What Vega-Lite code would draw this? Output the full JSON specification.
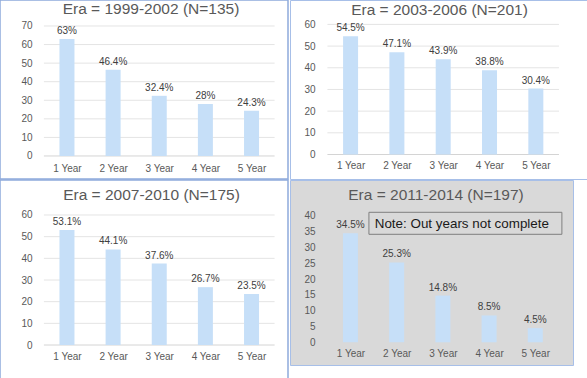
{
  "$schema": "https://vega.github.io/schema/vega-lite/v6.json",
  "padding": {"left": -1, "top": -1, "right": 0, "bottom": 0},
  "background": "white",
  "columns": 2,
  "spacing": {"row": 1, "column": 2},
  "bounds": "flush",
  "datasets": {
    "e1": [
      {"yr": 1, "v": 63, "t": "63%"},
      {"yr": 2, "v": 46.4, "t": "46.4%"},
      {"yr": 3, "v": 32.4, "t": "32.4%"},
      {"yr": 4, "v": 28, "t": "28%"},
      {"yr": 5, "v": 24.3, "t": "24.3%"}
    ],
    "e2": [
      {"yr": 1, "v": 54.5, "t": "54.5%"},
      {"yr": 2, "v": 47.1, "t": "47.1%"},
      {"yr": 3, "v": 43.9, "t": "43.9%"},
      {"yr": 4, "v": 38.8, "t": "38.8%"},
      {"yr": 5, "v": 30.4, "t": "30.4%"}
    ],
    "e3": [
      {"yr": 1, "v": 53.1, "t": "53.1%"},
      {"yr": 2, "v": 44.1, "t": "44.1%"},
      {"yr": 3, "v": 37.6, "t": "37.6%"},
      {"yr": 4, "v": 26.7, "t": "26.7%"},
      {"yr": 5, "v": 23.5, "t": "23.5%"}
    ],
    "e4": [
      {"yr": 1, "v": 34.5, "t": "34.5%"},
      {"yr": 2, "v": 25.3, "t": "25.3%"},
      {"yr": 3, "v": 14.8, "t": "14.8%"},
      {"yr": 4, "v": 8.5, "t": "8.5%"},
      {"yr": 5, "v": 4.5, "t": "4.5%"}
    ],
    "g70": [{"v": 0}, {"v": 10}, {"v": 20}, {"v": 30}, {"v": 40}, {"v": 50}, {"v": 60}, {"v": 70}],
    "g60": [{"v": 0}, {"v": 10}, {"v": 20}, {"v": 30}, {"v": 40}, {"v": 50}, {"v": 60}],
    "note": [{"note": "Note: Out years not complete"}]
  },
  "concat": [
    {
      "width": 288,
      "height": 179,
      "view": {"stroke": "#8faadc", "strokeWidth": 1.5, "fill": "white"},
      "title": {"text": "Era = 1999-2002 (N=135)", "offset": -17, "dx": 7},
      "layer": [
        {
          "data": {"name": "g70"},
          "mark": {"type": "rule", "strokeWidth": 1},
          "encoding": {
            "y": {"field": "v", "type": "quantitative"},
            "x": {"datum": 0.5, "type": "quantitative"},
            "x2": {"datum": 5.5},
            "stroke": {"condition": {"test": "datum.v === 0", "value": "#d4d4d4"}, "value": "#e4e4e4"}
          }
        },
        {
          "data": {"name": "e1"},
          "mark": {"type": "bar", "width": 15, "orient": "vertical", "color": "#c6dff8"},
          "encoding": {
            "x": {"field": "yr", "type": "quantitative", "scale": {"domain": [-0.343, 5.682], "nice": false, "zero": false},
              "axis": {"values": [1, 2, 3, 4, 5], "tickCount": 20, "labelExpr": "datum.value + ' Year'", "title": null, "offset": -21, "labelPadding": 5}},
            "y": {"field": "v", "type": "quantitative", "scale": {"domain": [-12.4, 84], "nice": false, "zero": false},
              "axis": {"values": [0, 10, 20, 30, 40, 50, 60, 70], "tickCount": 20, "title": null, "offset": -32, "labelPadding": 0}}
          }
        },
        {
          "data": {"name": "e1"},
          "mark": {"type": "text", "baseline": "bottom", "dy": -3, "fontSize": 10, "color": "#404040"},
          "encoding": {
            "x": {"field": "yr", "type": "quantitative"},
            "y": {"field": "v", "type": "quantitative"},
            "text": {"field": "t"}
          }
        }
      ]
    },
    {
      "width": 299,
      "height": 179,
      "view": {"stroke": "#a7bfe8", "strokeWidth": 1, "fill": "white"},
      "title": {"text": "Era = 2003-2006 (N=201)", "offset": -18.5, "dx": 0},
      "layer": [
        {
          "data": {"name": "g60"},
          "mark": {"type": "rule", "strokeWidth": 1},
          "encoding": {
            "y": {"field": "v", "type": "quantitative"},
            "x": {"datum": 0.5, "type": "quantitative"},
            "x2": {"datum": 5.5},
            "stroke": {"condition": {"test": "datum.v === 0", "value": "#d4d4d4"}, "value": "#e4e4e4"}
          }
        },
        {
          "data": {"name": "e2"},
          "mark": {"type": "bar", "width": 15, "orient": "vertical", "color": "#c6dff8"},
          "encoding": {
            "x": {"field": "yr", "type": "quantitative", "scale": {"domain": [-0.2, 6.04], "nice": false, "zero": false},
              "axis": {"values": [1, 2, 3, 4, 5], "tickCount": 20, "labelExpr": "datum.value + ' Year'", "title": null, "offset": -23.5, "labelPadding": 5}},
            "y": {"field": "v", "type": "quantitative", "scale": {"domain": [-11.3, 71.25], "nice": false, "zero": false},
              "axis": {"values": [0, 10, 20, 30, 40, 50, 60], "tickCount": 20, "title": null, "offset": -25, "labelPadding": 0}}
          }
        },
        {
          "data": {"name": "e2"},
          "mark": {"type": "text", "baseline": "bottom", "dy": -3, "fontSize": 10, "color": "#404040"},
          "encoding": {
            "x": {"field": "yr", "type": "quantitative"},
            "y": {"field": "v", "type": "quantitative"},
            "text": {"field": "t"}
          }
        }
      ]
    },
    {
      "width": 288,
      "height": 200,
      "view": {"stroke": "#8faadc", "strokeWidth": 1.5, "fill": "white"},
      "title": {"text": "Era = 2007-2010 (N=175)", "offset": -23, "dx": 7.5},
      "layer": [
        {
          "data": {"name": "g60"},
          "mark": {"type": "rule", "strokeWidth": 1},
          "encoding": {
            "y": {"field": "v", "type": "quantitative"},
            "x": {"datum": 0.5, "type": "quantitative"},
            "x2": {"datum": 5.5},
            "stroke": {"condition": {"test": "datum.v === 0", "value": "#d4d4d4"}, "value": "#e4e4e4"}
          }
        },
        {
          "data": {"name": "e3"},
          "mark": {"type": "bar", "width": 15, "orient": "vertical", "color": "#c6dff8"},
          "encoding": {
            "x": {"field": "yr", "type": "quantitative", "scale": {"domain": [-0.343, 5.682], "nice": false, "zero": false},
              "axis": {"values": [1, 2, 3, 4, 5], "tickCount": 20, "labelExpr": "datum.value + ' Year'", "title": null, "offset": -33.8, "labelPadding": 5}},
            "y": {"field": "v", "type": "quantitative", "scale": {"domain": [-16.15, 76.15], "nice": false, "zero": false},
              "axis": {"values": [0, 10, 20, 30, 40, 50, 60], "tickCount": 20, "title": null, "offset": -32, "labelPadding": 0}}
          }
        },
        {
          "data": {"name": "e3"},
          "mark": {"type": "text", "baseline": "bottom", "dy": -3, "fontSize": 10, "color": "#404040"},
          "encoding": {
            "x": {"field": "yr", "type": "quantitative"},
            "y": {"field": "v", "type": "quantitative"},
            "text": {"field": "t"}
          }
        }
      ]
    },
    {
      "width": 283,
      "height": 185,
      "view": {"stroke": "#a7bfe8", "strokeWidth": 1, "fill": "#d9d9d9"},
      "title": {"text": "Era = 2011-2014 (N=197)", "offset": -23, "dx": 4.5},
      "layer": [
        {
          "data": {"name": "e4"},
          "mark": {"type": "bar", "width": 15, "orient": "vertical", "color": "#c6dff8"},
          "encoding": {
            "x": {"field": "yr", "type": "quantitative", "scale": {"domain": [-0.2, 5.708], "nice": false, "zero": false},
              "axis": {"values": [1, 2, 3, 4, 5], "tickCount": 20, "labelExpr": "datum.value + ' Year'", "title": null, "offset": -22, "labelPadding": 5}},
            "y": {"field": "v", "type": "quantitative", "scale": {"domain": [-7.19, 51.4], "nice": false, "zero": false},
              "axis": {"values": [0, 5, 10, 15, 20, 25, 30, 35, 40], "tickCount": 20, "title": null, "offset": -25, "labelPadding": 0}}
          }
        },
        {
          "data": {"name": "e4"},
          "mark": {"type": "text", "baseline": "bottom", "dy": -3, "fontSize": 10, "color": "#404040"},
          "encoding": {
            "x": {"field": "yr", "type": "quantitative"},
            "y": {"field": "v", "type": "quantitative"},
            "text": {"field": "t"}
          }
        },
        {
          "data": {"name": "note"},
          "mark": {"type": "rect", "fill": null, "stroke": "#7f7f7f", "strokeWidth": 1},
          "encoding": {
            "x": {"datum": 1.40, "type": "quantitative"},
            "x2": {"datum": 5.576},
            "y": {"datum": 34.2, "type": "quantitative"},
            "y2": {"datum": 41.17}
          }
        },
        {
          "data": {"name": "note"},
          "mark": {"type": "text", "align": "left", "baseline": "middle", "fontSize": 13.4, "color": "#1a1a1a"},
          "encoding": {
            "x": {"datum": 1.526, "type": "quantitative"},
            "y": {"datum": 37.47, "type": "quantitative"},
            "text": {"field": "note"}
          }
        }
      ]
    }
  ],
  "config": {
    "font": "Liberation Sans",
    "view": {"stroke": null},
    "title": {"fontSize": 15.5, "fontWeight": "normal", "color": "#595959", "anchor": "middle", "frame": "group", "font": "Liberation Sans"},
    "axis": {"grid": false, "domain": false, "ticks": false, "tickSize": 0, "labelFontSize": 10, "labelColor": "#595959", "labelFont": "Liberation Sans", "labelFlush": false, "labelOverlap": false},
    "text": {"font": "Liberation Sans"}
  }
}
